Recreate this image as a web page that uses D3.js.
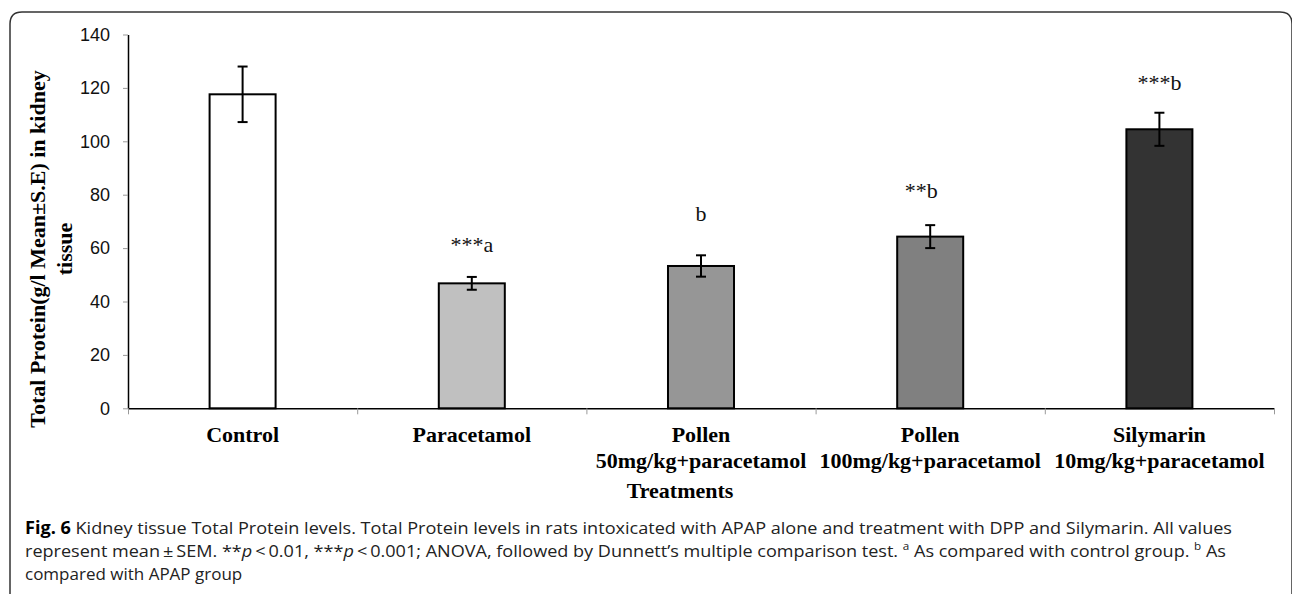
<!DOCTYPE html>
<html lang="en">
<head>
<meta charset="UTF-8">
<title>Kidney tissue Total Protein</title>
<script src="https://d3js.org/d3.v7.min.js"></script>
<style>
  body { margin: 0; background: #fff; }
  svg { display: block; }
</style>
</head>
<body>
<svg width="1292" height="594"></svg>
<script>
// data
const categories = [
  ["Control"],
  ["Paracetamol"],
  ["Pollen", "50mg/kg+paracetamol"],
  ["Pollen", "100mg/kg+paracetamol"],
  ["Silymarin", "10mg/kg+paracetamol"]
];
const means = [117.6, 46.8, 53.3, 64.3, 104.5];
const errors = [10.4, 2.4, 4.0, 4.3, 6.2];
const marks = ["", "***a", "b", "**b", "***b"];
const markLevel = [null, 58.6, 70.3, 78.6, 119.2];  // baseline of the marks, in axis units
const yTicks = [0, 20, 40, 60, 80, 100, 120, 140];
const fills = ["#ffffff", "#c0c0c0", "#969696", "#808080", "#333333"];

const svg = d3.select("svg");
const serif = "'Liberation Serif', 'Times New Roman', serif";
const sans = "'Liberation Sans', Arial, sans-serif";

// frame round the figure (bottom edge is cut off)
svg.append("path")
  .attr("d", "M10,600 L10,24 Q10,12 22,12 L1280,12 Q1292,12 1292,24 L1292,600")
  .attr("fill", "none")
  .attr("stroke", "#333")
  .attr("stroke-width", 1.5);

const y = d3.scaleLinear().domain([0, 140]).range([408.3, 34.5]);
const x = d3.scaleBand()
  .domain(d3.range(categories.length))
  .range([128, 1274])
  .paddingInner(0.712)
  .paddingOuter(0.356);
const xb = d3.scaleLinear().domain([0, categories.length]).range([128, 1274]);
const color = d3.scaleOrdinal().domain(d3.range(categories.length)).range(fills);

// y axis
const gy = svg.append("g")
  .attr("transform", "translate(128,0)")
  .call(d3.axisLeft(y).tickValues(yTicks).tickSize(5).tickSizeOuter(0).tickPadding(13));
gy.select(".domain").attr("stroke", "#000").attr("stroke-width", 1.5);
gy.selectAll(".tick line").attr("stroke", "#999");
gy.selectAll(".tick text")
  .attr("font-family", sans).attr("font-size", 18).attr("fill", "#111");

// bars
svg.append("g").selectAll("rect")
  .data(means)
  .join("rect")
  .attr("x", (d, i) => x(i))
  .attr("y", d => y(d))
  .attr("width", x.bandwidth())
  .attr("height", d => y(0) - y(d))
  .attr("fill", (d, i) => color(i))
  .attr("stroke", "#000")
  .attr("stroke-width", 2);

// x axis with ticks on the category boundaries
const gx = svg.append("g")
  .attr("transform", `translate(0,${y(0)})`)
  .call(d3.axisBottom(xb).tickValues(d3.range(categories.length + 1)).tickFormat("").tickSize(6).tickSizeOuter(0));
gx.select(".domain").attr("stroke", "#000").attr("stroke-width", 1.5);
gx.selectAll(".tick line").attr("stroke", "#999");

// error bars
const cx = i => x(i) + x.bandwidth() / 2;
const eb = svg.append("g").attr("stroke", "#000").attr("stroke-width", 2);
means.forEach((m, i) => {
  const top = y(m + errors[i]), bot = y(m - errors[i]);
  eb.append("line").attr("x1", cx(i)).attr("x2", cx(i)).attr("y1", top).attr("y2", bot);
  eb.append("line").attr("x1", cx(i) - 5).attr("x2", cx(i) + 5).attr("y1", top).attr("y2", top);
  eb.append("line").attr("x1", cx(i) - 5).attr("x2", cx(i) + 5).attr("y1", bot).attr("y2", bot);
});

// significance marks
svg.append("g").selectAll("text")
  .data(marks.map((t, i) => ({ t, i })).filter(d => d.t))
  .join("text")
  .attr("x", d => cx(d.i))
  .attr("y", d => y(markLevel[d.i]))
  .attr("dx", d => d.t === "**b" ? -9 : 0)
  .attr("text-anchor", "middle")
  .attr("font-family", serif)
  .attr("font-size", 22)
  .attr("fill", "#111")
  .text(d => d.t);

// category labels
const lab = svg.append("g")
  .attr("font-family", serif).attr("font-weight", "bold")
  .attr("font-size", 22).attr("text-anchor", "middle").attr("fill", "#000");
categories.forEach((lines, i) => {
  const t = lab.append("text").attr("x", cx(i)).attr("y", 441.7);
  lines.forEach((s, k) => {
    t.append("tspan").attr("x", cx(i)).attr("dy", k ? 26 : 0).text(s);
  });
});

// axis titles
svg.append("text")
  .attr("x", 680).attr("y", 498)
  .attr("text-anchor", "middle")
  .attr("font-family", serif).attr("font-weight", "bold").attr("font-size", 22)
  .text("Treatments");

const yl = svg.append("text")
  .attr("transform", "translate(45,249) rotate(-90)")
  .attr("text-anchor", "middle")
  .attr("font-family", serif).attr("font-weight", "bold").attr("font-size", 22);
yl.append("tspan").attr("x", 0).attr("dy", 0).text("Total Protein(g/l Mean±S.E) in kidney");
yl.append("tspan").attr("x", 0).attr("dy", 27).text("tissue");

// caption
const cap = svg.append("g")
  .attr("font-family", "'Open Sans', 'Noto Sans', sans-serif")
  .attr("font-size", 17).attr("fill", "#222");

const l1 = cap.append("text").attr("x", 25).attr("y", 534)
  .attr("textLength", 1207).attr("lengthAdjust", "spacingAndGlyphs");
l1.append("tspan").attr("font-weight", "bold").attr("fill", "#000").text("Fig. 6");
l1.append("tspan").text(" Kidney tissue Total Protein levels. Total Protein levels in rats intoxicated with APAP alone and treatment with DPP and Silymarin. All values");

const l2 = cap.append("text").attr("x", 25).attr("y", 557)
  .attr("textLength", 1201).attr("lengthAdjust", "spacingAndGlyphs");
l2.append("tspan").text("represent mean\u2009±\u2009SEM. **");
l2.append("tspan").attr("font-style", "italic").text("p");
l2.append("tspan").text("\u2009<\u20090.01, ***");
l2.append("tspan").attr("font-style", "italic").text("p");
l2.append("tspan").text("\u2009<\u20090.001; ANOVA, followed by Dunnett’s multiple comparison test. ");
l2.append("tspan").attr("font-size", 11).attr("dy", -7).text("a");
l2.append("tspan").attr("dy", 7).text(" As compared with control group. ");
l2.append("tspan").attr("font-size", 11).attr("dy", -7).text("b");
l2.append("tspan").attr("dy", 7).text(" As");

cap.append("text").attr("x", 25).attr("y", 580)
  .text("compared with APAP group");
</script>
</body>
</html>
